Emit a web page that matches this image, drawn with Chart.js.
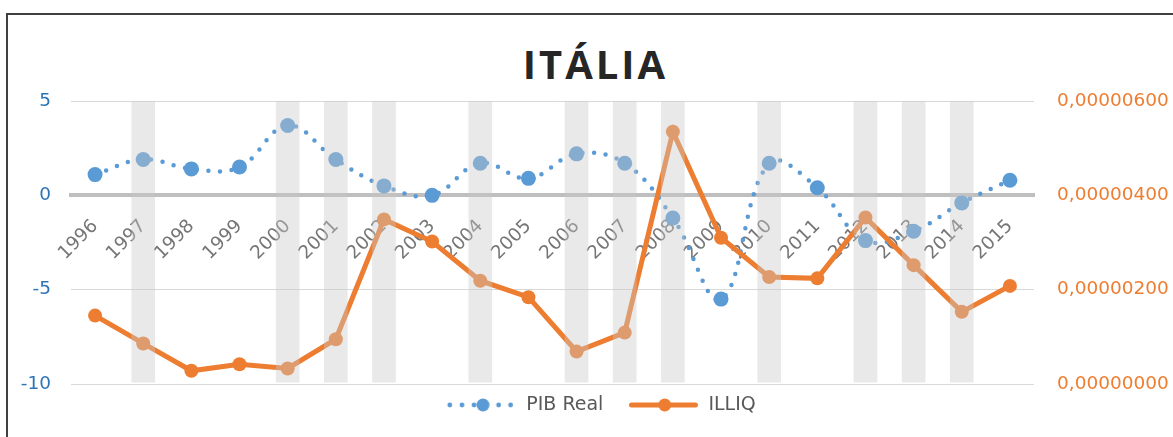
<!DOCTYPE html>
<html>
<head>
<meta charset="utf-8">
<script src="https://cdn.jsdelivr.net/npm/chart.js@4.4.1/dist/chart.umd.min.js"></script>
<style>
html,body{margin:0;padding:0;background:#fff;}
#quadro{position:relative;width:1173px;height:437px;overflow:hidden;}
#moldura{position:absolute;left:6px;top:13px;width:1300px;height:600px;border-top:2px solid #404040;border-left:2px solid #404040;}
#titulo{position:absolute;left:0;top:43px;width:1173px;text-align:center;font:bold 40px "Open Sans";line-height:42px;letter-spacing:3px;padding-left:18px;box-sizing:border-box;color:#262626;}
canvas{position:absolute;left:0;top:0;}
</style>
</head>
<body>
<div id="quadro">
  <div id="moldura"></div>
  <div id="titulo">ITÁLIA</div>
  <canvas id="myChart" width="1173" height="437"></canvas>
</div>
<script>
// anos
const anos=['1996','1997','1998','1999','2000','2001','2002','2003','2004','2005',
            '2006','2007','2008','2009','2010','2011','2012','2013','2014','2015']
// PIB real (eixo esquerdo)
const pib=[1.1,1.9,1.4,1.5,3.7,1.9,0.5,0.0,1.7,0.9,
           2.2,1.7,-1.2,-5.5,1.7,0.4,-2.4,-1.9,-0.4,0.8]
// ILLIQ (eixo direito)
const illiq=[0.00000145,0.00000086,0.00000028,0.00000042,0.00000033,0.00000095,0.00000349,0.00000302,0.00000219,0.00000184,
             0.00000069,0.00000109,0.00000535,0.00000310,0.00000227,0.00000224,0.00000353,0.00000252,0.00000153,0.00000208]
// anos sombreados (1 = faixa cinza)
const faixa=[0,1,0,0,1,1,1,0,1,0,1,1,1,0,1,0,1,1,1,0]
// ticks
const ticksEsq=[-10,-5,0,5]
const ticksDir=[0,0.000002,0.000004,0.000006]

const azul='#5B9BD5'
const laranja='#ED7D31'
const fonte='DejaVu Sans'

// icones da legenda (margem transparente de 13.5px a esquerda)
const margem=13.5
function icone(tipo){
    const c=document.createElement('canvas')
    c.width=84; c.height=18
    const g=c.getContext('2d')
    g.translate(margem,0)
    if(tipo=='pib'){
        g.fillStyle=azul
        const xs=[3.5,15.7,27.7,52.3,64.3]
        xs.forEach((x)=>{ g.beginPath(); g.arc(x,9,2.4,0,Math.PI*2); g.fill() })
        g.beginPath(); g.arc(36.7,9,6.5,0,Math.PI*2); g.fill()
    }else{
        g.strokeStyle=laranja; g.lineWidth=5; g.lineCap='round'
        g.beginPath(); g.moveTo(3,9); g.lineTo(67,9); g.stroke()
        g.fillStyle=laranja
        g.beginPath(); g.arc(36.3,9,6.5,0,Math.PI*2); g.fill()
    }
    return c
}
const icones=[icone('pib'),icone('illiq')]

const dadosFaixa=faixa.map((f)=> f ? [-9.9,5] : null)

const ctx=document.getElementById('myChart')
const mychart=new Chart(ctx,{
    data:{
        labels:anos,
        datasets:[
            {
                type:'bar',
                label:'faixa',
                data:dadosFaixa,
                yAxisID:'y',
                backgroundColor:'rgba(200,200,200,0.4)',
                borderWidth:0,
                barThickness:23,
                order:0
            },
            {
                type:'line',
                label:'ILLIQ',
                data:illiq,
                yAxisID:'y1',
                borderColor:laranja,
                backgroundColor:laranja,
                borderWidth:5,
                pointRadius:7,
                pointBorderWidth:0,
                pointBackgroundColor:laranja,
                tension:0,
                order:1
            },
            {
                type:'line',
                label:'PIB Real',
                data:pib,
                yAxisID:'y',
                borderColor:azul,
                backgroundColor:azul,
                borderWidth:4.5,
                borderDash:[0,11.7],
                borderCapStyle:'round',
                pointRadius:7.5,
                pointBorderWidth:0,
                pointBackgroundColor:azul,
                tension:0.4,
                order:2
            }
        ]
    },
    options:{
        responsive:false,
        animation:false,
        events:[],
        layout:{padding:{left:15.5,right:0,top:101,bottom:12.5}},
        scales:{
            x:{
                type:'category',
                offset:true,
                position:{y:0},
                grid:{display:true,drawOnChartArea:false,drawTicks:false,color:'transparent'},
                border:{display:true,color:'#BFBFBF',width:4},
                ticks:{color:'#767676',font:{family:fonte,size:18.5},minRotation:45,maxRotation:45,padding:20,autoSkip:false}
            },
            y:{
                position:'left',
                min:-10,max:5,
                afterBuildTicks:(s)=>{ s.ticks=ticksEsq.map((v)=>({value:v})) },
                afterFit:(s)=>{ s.width=55.5 },
                grid:{color:(c)=> c.tick && c.tick.value==0 ? 'transparent' : '#D9D9D9',lineWidth:1,drawTicks:false},
                border:{display:false},
                ticks:{color:'#2E75B6',font:{family:fonte,size:18.5},padding:20}
            },
            y1:{
                position:'right',
                min:0,max:0.000006,
                afterBuildTicks:(s)=>{ s.ticks=ticksDir.map((v)=>({value:v})) },
                afterFit:(s)=>{ s.width=139 },
                grid:{drawOnChartArea:false,drawTicks:false},
                border:{display:false},
                ticks:{color:laranja,font:{family:fonte,size:18.5},padding:23,
                       callback:(v)=> Number(v).toFixed(8).replace('.',',')}
            }
        },
        plugins:{
            title:{display:false},
            tooltip:{enabled:false},
            legend:{
                display:true,
                position:'bottom',
                labels:{
                    usePointStyle:true,
                    pointStyleWidth:84,
                    padding:11.5,
                    color:'#595959',
                    font:{family:fonte,size:19},
                    generateLabels:(chart)=>[
                        {text:'PIB Real',pointStyle:icones[0],fontColor:'#595959',datasetIndex:2,lineWidth:0,strokeStyle:'transparent',fillStyle:'transparent'},
                        {text:'ILLIQ',pointStyle:icones[1],fontColor:'#595959',datasetIndex:1,lineWidth:0,strokeStyle:'transparent',fillStyle:'transparent'}
                    ]
                }
            }
        }
    }
})
</script>
</body>
</html>
